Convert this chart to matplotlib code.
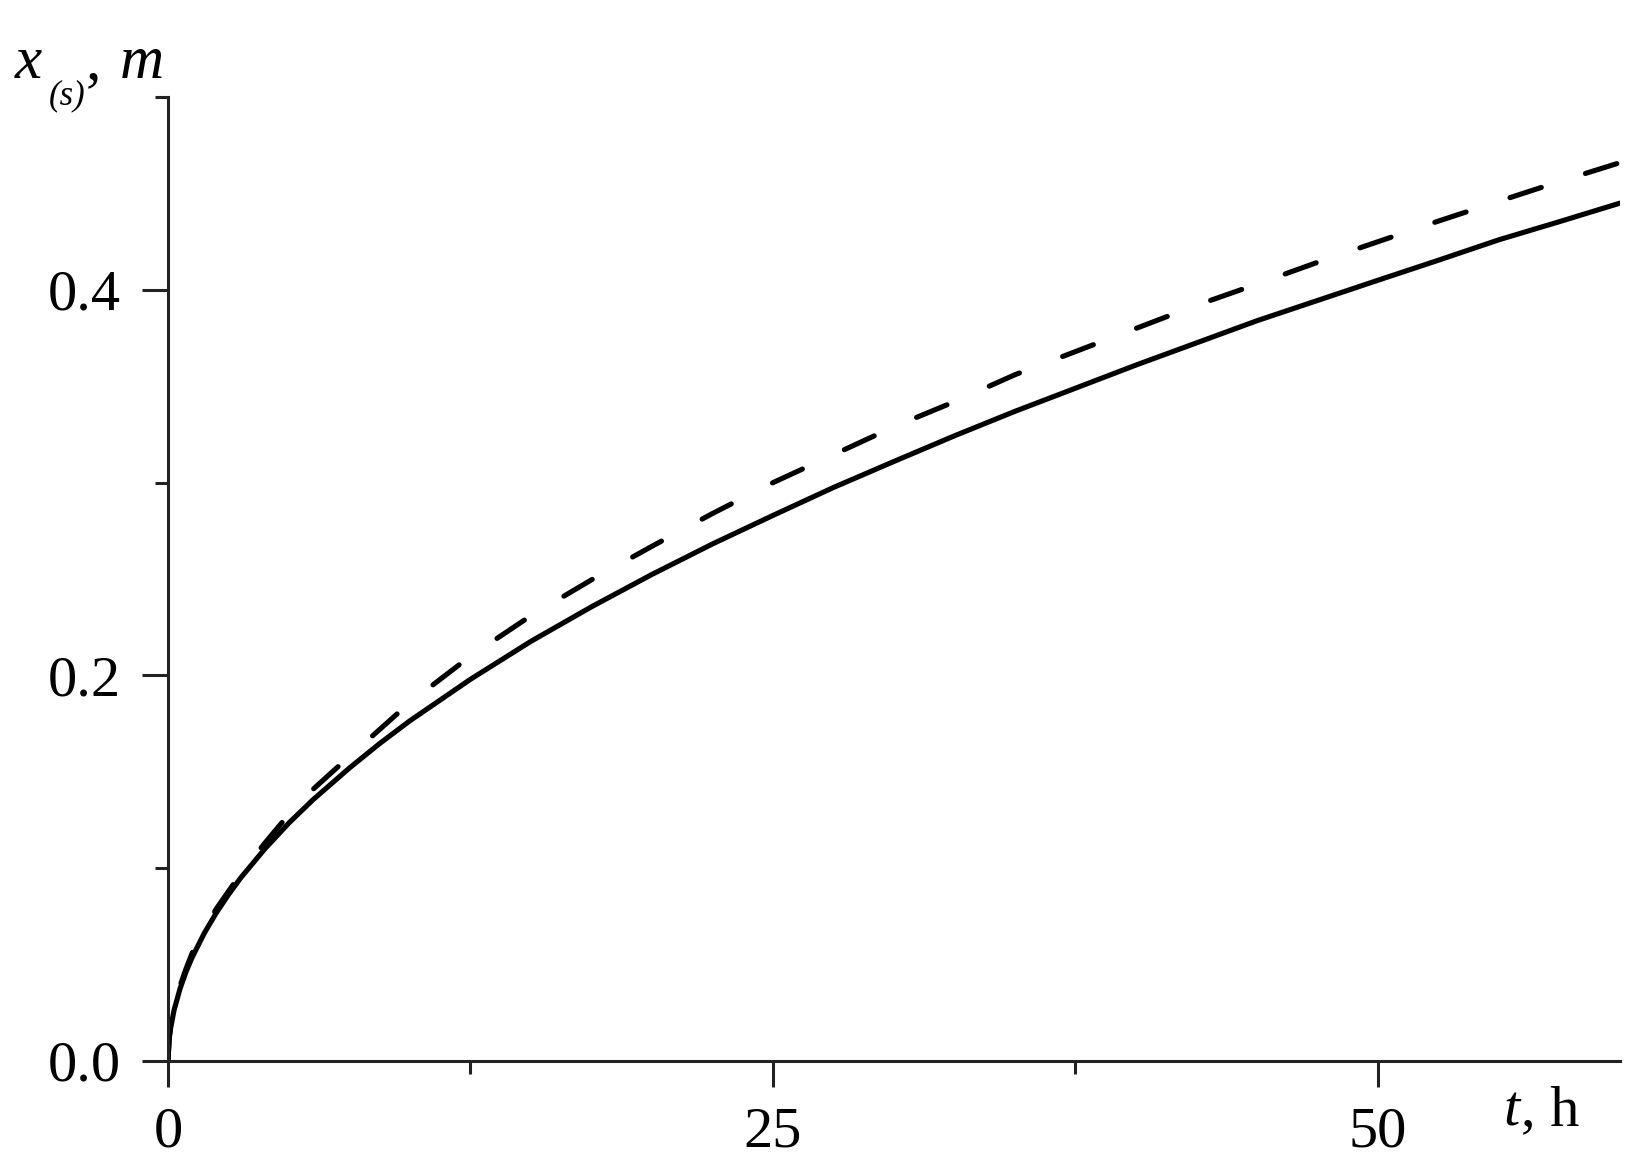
import matplotlib
matplotlib.use("Agg")
import matplotlib.pyplot as plt
from matplotlib.ticker import FixedLocator

# Values
t_hours = [0, 0.05, 0.1, 0.25, 0.5, 0.75, 1, 1.5, 2, 2.5, 3, 4, 5, 6, 7.5,
           8.75, 10, 12.5, 15, 17.5, 20, 22.5, 25, 27.5, 30, 32.5, 35, 37.5,
           40, 42.5, 45, 47.5, 50, 52.5, 55, 57.5, 60]
x_solid = [0, 0.0115, 0.0164, 0.0263, 0.0376, 0.0464, 0.0538, 0.0663, 0.0769,
           0.0863, 0.0949, 0.110, 0.1235, 0.1356, 0.152, 0.1647, 0.1765,
           0.198, 0.2177, 0.2356, 0.2524, 0.2682, 0.283, 0.2975, 0.311,
           0.3243, 0.337, 0.349, 0.361, 0.3725, 0.384, 0.3945, 0.405, 0.4154,
           0.426, 0.4354, 0.445]
x_dashed = [0, 0.012, 0.017, 0.027, 0.039, 0.048, 0.056, 0.068, 0.079, 0.088,
            0.097, 0.113, 0.128, 0.141, 0.158, 0.172, 0.186, 0.210, 0.231,
            0.2496, 0.267, 0.284, 0.300, 0.3145, 0.329, 0.342, 0.356, 0.368,
            0.380, 0.392, 0.403, 0.4143, 0.425, 0.4357, 0.446, 0.4562, 0.466]

x_major = [0, 25, 50]
x_minor = [12.5, 37.5]
y_major = [0.0, 0.2, 0.4]
y_minor = [0.1, 0.3, 0.5]

W, H = 1647, 1170

plt.rcParams['font.family'] = ['Liberation Serif', 'DejaVu Serif']

fig = plt.figure(figsize=(W / 100, H / 100), dpi=100)
ax = fig.add_axes([0.102, 0.0932, 0.8816, 0.8238])

ax.plot(t_hours, x_solid, color='black', linewidth=3.7,
        solid_capstyle='round', solid_joinstyle='round')
ax.plot(t_hours, x_dashed, color='black', linewidth=3.7,
        linestyle=(0, (6.4, 9)), dash_capstyle='round')

ax.set_xlim(0, 60)
ax.set_ylim(0, 0.5)

for side in ['top', 'right']:
    ax.spines[side].set_visible(False)
for side in ['left', 'bottom']:
    ax.spines[side].set_linewidth(2.2)
    ax.spines[side].set_color('#222222')

ax.xaxis.set_major_locator(FixedLocator(x_major))
ax.xaxis.set_minor_locator(FixedLocator(x_minor))
ax.yaxis.set_major_locator(FixedLocator(y_major))
ax.yaxis.set_minor_locator(FixedLocator(y_minor))
ax.set_xticklabels([str(v) for v in x_major])
ax.set_yticklabels(['%.1f' % v for v in y_major])

ax.tick_params(axis='both', which='major', direction='out', length=19,
               width=2.2, color='#222222', labelsize=42)
ax.tick_params(axis='both', which='minor', direction='out', length=9.5,
               width=2.2, color='#222222')
ax.tick_params(axis='x', which='major', pad=14)
ax.tick_params(axis='y', which='major', pad=15)


def px_text(x, y, s, **kw):
    # place text by pixel position (from top-left), baseline aligned
    fig.text(x / W, 1 - y / H, s, ha='left', va='baseline', **kw)


# y axis label: x_(s), m
px_text(15, 78, 'x', fontsize=44, style='italic')
px_text(49, 104, '(s)', fontsize=25, style='italic')
px_text(86, 78, ',', fontsize=44)
px_text(120, 78, 'm', fontsize=44, style='italic')

# x axis label: t, h
px_text(1503, 1125, 't', fontsize=42, style='italic')
px_text(1521, 1125, ', h', fontsize=42)

fig.savefig('out.png', dpi=100)
